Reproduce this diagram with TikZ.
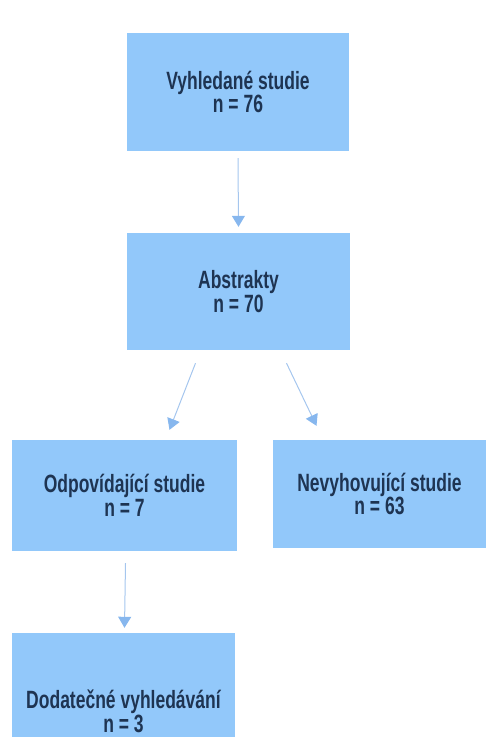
\documentclass[tikz,border=0pt]{standalone}
\usepackage{fontspec}
\setmainfont{Liberation Sans}[FakeStretch=0.70]
\usetikzlibrary{arrows.meta}
\definecolor{boxfill}{RGB}{146,200,250}
\definecolor{boxtext}{RGB}{30,52,82}
\definecolor{arrline}{RGB}{165,198,238}
\definecolor{arrhead}{RGB}{135,183,238}
\tikzset{
  stepbox/.style={rectangle, fill=boxfill, draw=none, inner sep=0pt, align=center,
    text=boxtext, font=\bfseries\fontsize{25}{21}\selectfont},
  arr/.style={draw=arrline, line width=1pt,
    -{Triangle[width=13pt,length=11pt,color=arrhead,fill=arrhead]}}
}
\begin{document}
\begin{tikzpicture}[x=1pt,y=-1pt]
\useasboundingbox (0,0) rectangle (486,737);
\clip (0,0) rectangle (486,737);
\node[stepbox, minimum width=222pt, minimum height=118pt] (b1) at (238,92) {Vyhledané studie\\n = 76};
\node[stepbox, minimum width=223pt, minimum height=117pt] (b2) at (238.5,291.5) {Abstrakty\\n = 70};
\node[stepbox, minimum width=225pt, minimum height=111pt] (b3) at (124.5,495.5) {Odpovídající studie\\n = 7};
\node[stepbox, minimum width=213pt, minimum height=108pt] (b4) at (379.5,494) {Nevyhovující studie\\n = 63};
\node[stepbox, minimum width=223pt, minimum height=156pt] (b5) at (123.5,711) {Dodatečné vyhledávání\\n = 3};
\draw[arr] ([yshift=-7pt]b1.south) -- ([yshift=6pt]b2.north);
\draw[arr] ([xshift=-43pt,yshift=-13pt]b2.south) -- ([xshift=45pt,yshift=10pt]b3.north);
\draw[arr] ([xshift=48pt,yshift=-13pt]b2.south) -- ([xshift=-63pt,yshift=14pt]b4.north);
\draw[arr] ([xshift=1pt,yshift=-12pt]b3.south) -- ([xshift=1pt,yshift=5pt]b5.north);
\end{tikzpicture}
\end{document}
